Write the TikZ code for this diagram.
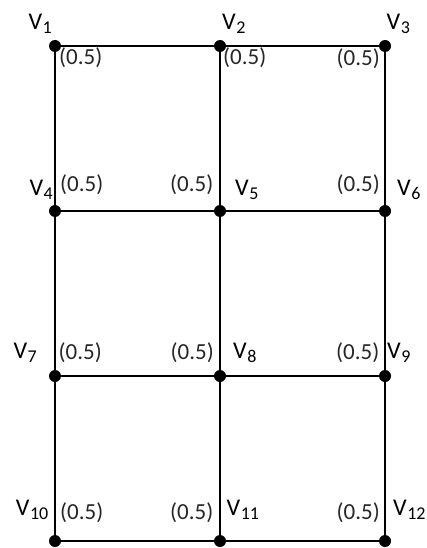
\documentclass[tikz,border=0pt]{standalone}
\usepackage{fontspec}
\setmainfont{Carlito}
\newcommand\vsub[1]{V\kern0.5pt\raisebox{-4pt}{\fontsize{18}{18}\selectfont #1}}

\begin{document}
\begin{tikzpicture}[x=1pt, y=-1pt,
  vert/.style={circle, fill=black, inner sep=0pt, minimum size=12pt},
  edge/.style={line width=1.5pt},
  vname/.style={inner sep=0pt, font=\fontsize{24}{24}\selectfont},
  wt/.style={inner sep=0pt, text=black!85, font=\fontsize{23}{23}\selectfont}]
  \useasboundingbox (0,0) rectangle (427,548);

  % vertices of the 4x3 grid
  \foreach \n/\x/\y in {%
    1/55/46,   2/220/46,   3/385/46,
    4/55/211,  5/220/211,  6/385/211,
    7/55/376,  8/220/376,  9/385/376,
    10/55/541, 11/220/541, 12/385/541}
    \node[vert] (v\n) at (\x,\y) {};

  % edges
  \draw[edge] (v1) -- (v2) -- (v3);
  \draw[edge] (v4) -- (v5) -- (v6);
  \draw[edge] (v7) -- (v8) -- (v9);
  \draw[edge] (v10) -- (v11) -- (v12);
  \draw[edge] (v1) -- (v4) -- (v7) -- (v10);
  \draw[edge] (v2) -- (v5) -- (v8) -- (v11);
  \draw[edge] (v3) -- (v6) -- (v9) -- (v12);

  % vertex names
  \foreach \n/\a/\x/\y in {%
    1/base east/52/30,    2/base west/222/30,   3/base west/386.5/30,
    4/base east/53/195,   5/base west/235/195,  6/base west/397/195,
    7/base east/37/358,   8/base west/233/358,  9/base west/387/358,
    10/base east/48.5/515, 11/base west/226.5/515, 12/base west/393/515}
    \node[vname, anchor=\a] (l\n) at (\x,\y) {\vsub{\n}};

  % weights
  \foreach \n/\a/\x/\y in {%
    1/west/59/58,      2/west/223/58,     3/east/380/59,
    4/west/60/185,     5/east/213.5/185,  6/east/380/185,
    7/west/58.5/352.5, 8/east/214/352.5,  9/east/379.5/352.5,
    10/west/60/513,    11/east/213.5/513, 12/east/380/513}
    \node[wt, anchor=\a] (w\n) at (\x,\y) {(0.5)};
\end{tikzpicture}
\end{document}
